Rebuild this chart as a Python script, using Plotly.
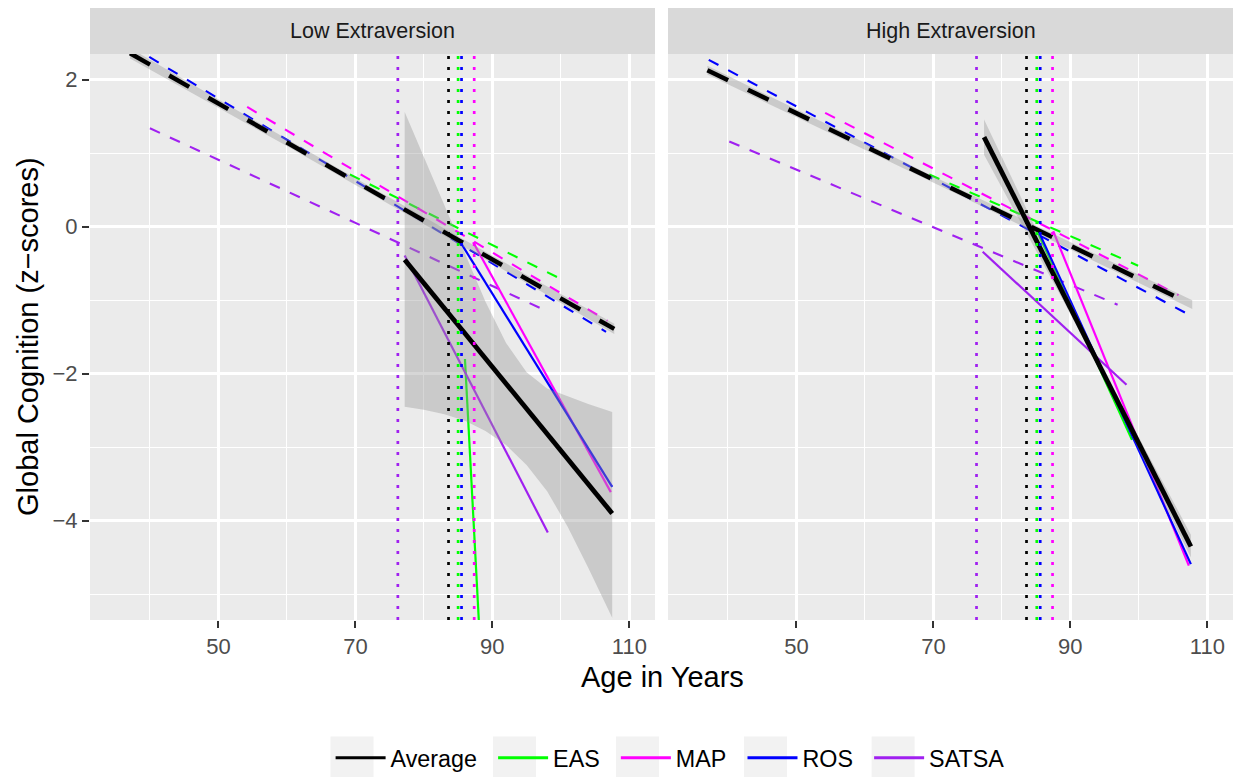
import plotly.graph_objects as go

# ---------------- data ----------------
GROUPS = ["Average", "EAS", "MAP", "ROS", "SATSA"]
COLORS = ["#000000", "#00FF00", "#FF00FF", "#0000FF", "#A020F0"]
PANELS = ["Low Extraversion", "High Extraversion"]

X_TICKS = [50, 70, 90, 110]
X_MINOR = [40, 60, 80, 100]
Y_TICKS = [-4, -2, 0, 2]
Y_MINOR = [-5, -3, -1, 1]
X_RANGE = [31.25, 113.75]
Y_RANGE = [-5.35, 2.35]

# change points (vertical dotted lines), order = GROUPS
LOW_CP = [83.6, 85.0, 87.35, 85.5, 76.2]
HIGH_CP = [83.6, 85.1, 87.4, 85.6, 76.3]

# pre-change trajectories (dashed): [start, end]
LOW_PRE_AGE = [[37.1, 107.8], [69.2, 99.8], [54.2, 106.8], [39.9, 106.6], [40.0, 97.8]]
LOW_PRE_VAL = [[2.36, -1.39], [0.71, -0.70], [1.63, -1.28], [2.31, -1.43], [1.34, -1.14]]
HIGH_PRE_AGE = [[37.0, 107.8], [69.4, 99.9], [54.2, 105.8], [37.2, 107.8], [40.2, 96.9]]
HIGH_PRE_VAL = [[2.13, -1.06], [0.71, -0.53], [1.55, -0.93], [2.27, -1.22], [1.16, -1.06]]

# post-change trajectories (solid): [start, end]
LOW_POST_AGE = [[77.2, 107.5], [86.0, 88.05], [87.2, 107.3], [85.4, 107.5], [77.2, 98.1]]
LOW_POST_VAL = [[-0.45, -3.90], [-1.80, -5.40], [-0.21, -3.61], [-0.22, -3.54], [-0.39, -4.16]]
HIGH_POST_AGE = [[77.4, 107.6], [85.2, 99.0], [87.5, 107.3], [85.4, 107.6], [77.2, 98.2]]
HIGH_POST_VAL = [[1.22, -4.35], [-0.07, -2.90], [-0.06, -4.61], [-0.07, -4.59], [-0.34, -2.15]]

# confidence ribbons of the average trajectory
LOW_PRE_RIB_AGE = [37.1, 50, 60, 72, 85, 95, 107.8]
LOW_PRE_RIB_UP = [2.43, 1.731, 1.193, 0.554, -0.133, -0.656, -1.32]
LOW_PRE_RIB_LO = [2.29, 1.621, 1.097, 0.464, -0.229, -0.766, -1.46]
HIGH_PRE_RIB_AGE = [37.0, 50, 60, 72, 85, 95, 107.8]
HIGH_PRE_RIB_UP = [2.19, 1.594, 1.140, 0.596, 0.013, -0.432, -1.00]
HIGH_PRE_RIB_LO = [2.07, 1.494, 1.048, 0.510, -0.079, -0.536, -1.12]

LOW_POST_RIB_AGE = [77.2, 80, 83, 86, 89, 92, 95, 98, 101, 104, 107.5]
LOW_POST_RIB_UP = [1.56, 0.95, 0.30, -0.36, -1.02, -1.58, -1.98, -2.20, -2.31, -2.41, -2.52]
LOW_POST_RIB_LO = [-2.45, -2.49, -2.55, -2.64, -2.78, -2.97, -3.24, -3.60, -4.08, -4.64, -5.32]
HIGH_POST_RIB_AGE = [77.4, 80, 83, 86, 89, 92, 95, 98, 101, 104, 107.6]
HIGH_POST_RIB_UP = [1.46, 0.95, 0.36, -0.24, -0.83, -1.41, -1.98, -2.52, -3.04, -3.56, -4.19]
HIGH_POST_RIB_LO = [0.98, 0.54, 0.02, -0.50, -1.01, -1.54, -2.08, -2.64, -3.23, -3.82, -4.50]

# ---------------- styling ----------------
FONT = "Liberation Sans, Arial, Helvetica, sans-serif"
RIBBON = "rgba(153,153,153,0.4)"
DASH_THIN = "11px,11px"
DASH_THICK = "23px,22px"
DOT = "3px,8px"

W, H = 1239, 777
ML, MR, MT, MB = 90, 6, 8, 157
PLOT_W = W - ML - MR
PLOT_H = H - MT - MB


def px_x(px):
    return (px - ML) / PLOT_W


def px_y(py):
    return (H - MB - py) / PLOT_H


fig = go.Figure()

panel_data = [
    dict(cp=LOW_CP, pre_a=LOW_PRE_AGE, pre_v=LOW_PRE_VAL, post_a=LOW_POST_AGE, post_v=LOW_POST_VAL,
         rpa=LOW_PRE_RIB_AGE, rpu=LOW_PRE_RIB_UP, rpl=LOW_PRE_RIB_LO,
         rqa=LOW_POST_RIB_AGE, rqu=LOW_POST_RIB_UP, rql=LOW_POST_RIB_LO),
    dict(cp=HIGH_CP, pre_a=HIGH_PRE_AGE, pre_v=HIGH_PRE_VAL, post_a=HIGH_POST_AGE, post_v=HIGH_POST_VAL,
         rpa=HIGH_PRE_RIB_AGE, rpu=HIGH_PRE_RIB_UP, rpl=HIGH_PRE_RIB_LO,
         rqa=HIGH_POST_RIB_AGE, rqu=HIGH_POST_RIB_UP, rql=HIGH_POST_RIB_LO),
]

for p, d in enumerate(panel_data):
    xa = "x" if p == 0 else "x2"
    ya = "y" if p == 0 else "y2"
    # study trajectories (coloured)
    for i in range(1, len(GROUPS)):
        fig.add_trace(go.Scatter(x=d["pre_a"][i], y=d["pre_v"][i], mode="lines", xaxis=xa, yaxis=ya,
                                 line=dict(color=COLORS[i], width=2.1, dash=DASH_THIN),
                                 showlegend=False, hoverinfo="skip"))
    for i in range(1, len(GROUPS)):
        fig.add_trace(go.Scatter(x=d["post_a"][i], y=d["post_v"][i], mode="lines", xaxis=xa, yaxis=ya,
                                 line=dict(color=COLORS[i], width=2.2),
                                 showlegend=False, hoverinfo="skip"))
    # ribbons
    for ag, up, lo in [(d["rpa"], d["rpu"], d["rpl"]), (d["rqa"], d["rqu"], d["rql"])]:
        fig.add_trace(go.Scatter(x=ag + ag[::-1], y=up + lo[::-1], mode="lines", fill="toself",
                                 fillcolor=RIBBON, line=dict(width=0, color=RIBBON),
                                 xaxis=xa, yaxis=ya, showlegend=False, hoverinfo="skip"))
    # average trajectories
    fig.add_trace(go.Scatter(x=d["pre_a"][0], y=d["pre_v"][0], mode="lines", xaxis=xa, yaxis=ya,
                             line=dict(color=COLORS[0], width=4.5, dash=DASH_THICK),
                             showlegend=False, hoverinfo="skip"))
    fig.add_trace(go.Scatter(x=d["post_a"][0], y=d["post_v"][0], mode="lines", xaxis=xa, yaxis=ya,
                             line=dict(color=COLORS[0], width=4.8),
                             showlegend=False, hoverinfo="skip"))
    # change points
    for i in range(len(GROUPS)):
        fig.add_trace(go.Scatter(x=[d["cp"][i], d["cp"][i]], y=Y_RANGE, mode="lines", xaxis=xa, yaxis=ya,
                                 line=dict(color=COLORS[i], width=2.7, dash=DOT),
                                 showlegend=False, hoverinfo="skip"))

# legend entries (trailing no-break + thin space widen the spacing between entries)
for g, c in zip(GROUPS, COLORS):
    fig.add_trace(go.Scatter(x=[None], y=[None], mode="lines", name=g + "\u00a0\u2009",
                             line=dict(color=c, width=3), showlegend=True))

LEFT_DOM = [0, px_x(655)]
RIGHT_DOM = [px_x(668), 1]
Y_DOM = [0, px_y(54)]


def xaxis_cfg(dom, anchor):
    return dict(domain=dom, anchor=anchor, range=X_RANGE, tickmode="array", tickvals=X_TICKS,
                ticks="outside", ticklen=7, tickwidth=1.6, tickcolor="#333333",
                showgrid=True, gridcolor="white", gridwidth=2.6, zeroline=False, showline=False,
                automargin=False,
                tickfont=dict(family=FONT, size=22, color="#4D4D4D"),
                minor=dict(tickmode="array", tickvals=X_MINOR, showgrid=True, gridcolor="white",
                           gridwidth=1.3, ticks=""))


def yaxis_cfg(anchor, labels):
    return dict(domain=Y_DOM, anchor=anchor, range=Y_RANGE, tickmode="array", tickvals=Y_TICKS,
                ticks="outside" if labels else "", ticklen=7, tickwidth=1.6, tickcolor="#333333",
                showticklabels=labels, automargin=False,
                showgrid=True, gridcolor="white", gridwidth=2.6, zeroline=False, showline=False,
                tickfont=dict(family=FONT, size=22, color="#4D4D4D"),
                minor=dict(tickmode="array", tickvals=Y_MINOR, showgrid=True, gridcolor="white",
                           gridwidth=1.3, ticks=""))


strip_y0 = px_y(54)
shapes = []
annotations = []
for dom, title in zip([LEFT_DOM, RIGHT_DOM], PANELS):
    shapes.append(dict(type="rect", xref="paper", yref="paper", x0=dom[0], x1=dom[1], y0=strip_y0, y1=1,
                       fillcolor="#D9D9D9", line=dict(width=0), layer="below"))
    annotations.append(dict(text=title, xref="paper", yref="paper", x=(dom[0] + dom[1]) / 2,
                            y=(strip_y0 + 1) / 2, xanchor="center", yanchor="middle", showarrow=False,
                            font=dict(family=FONT, size=21.5, color="#1A1A1A")))

annotations.append(dict(text="Age in Years", xref="paper", yref="paper", x=px_x(662),
                        y=px_y(677), xanchor="center", yanchor="middle", showarrow=False,
                        font=dict(family=FONT, size=29, color="black")))
annotations.append(dict(text="Global Cognition (z\u2212scores)", xref="paper", yref="paper",
                        x=px_x(28), y=px_y(337), xanchor="center", yanchor="middle",
                        textangle=-90, showarrow=False, font=dict(family=FONT, size=29, color="black")))

# legend key backgrounds (grey boxes behind the legend symbols)
LEG_X0 = 330.6
KEY_BOX_X0 = [332.5, 495, 618, 746, 873.6]
for kx in KEY_BOX_X0:
    shapes.append(dict(type="rect", xref="paper", yref="paper", x0=px_x(kx - 2), x1=px_x(kx + 41),
                       y0=px_y(779.5), y1=px_y(736.5), fillcolor="#F2F2F2", line=dict(width=0),
                       layer="above"))

fig.update_layout(
    width=W, height=H,
    margin=dict(l=ML, r=MR, t=MT, b=MB, autoexpand=False),
    paper_bgcolor="white", plot_bgcolor="#EBEBEB",
    font=dict(family=FONT, size=22, color="black"),
    xaxis=xaxis_cfg(LEFT_DOM, "y"),
    xaxis2=xaxis_cfg(RIGHT_DOM, "y2"),
    yaxis=yaxis_cfg("x", True),
    yaxis2=yaxis_cfg("x2", False),
    shapes=shapes, annotations=annotations,
    showlegend=True,
    legend=dict(orientation="h", x=px_x(LEG_X0), y=px_y(758), xanchor="left",
                yanchor="middle", font=dict(family=FONT, size=23.3, color="black"),
                bgcolor="rgba(0,0,0,0)", itemwidth=50),
)

fig.write_html("out.html")
